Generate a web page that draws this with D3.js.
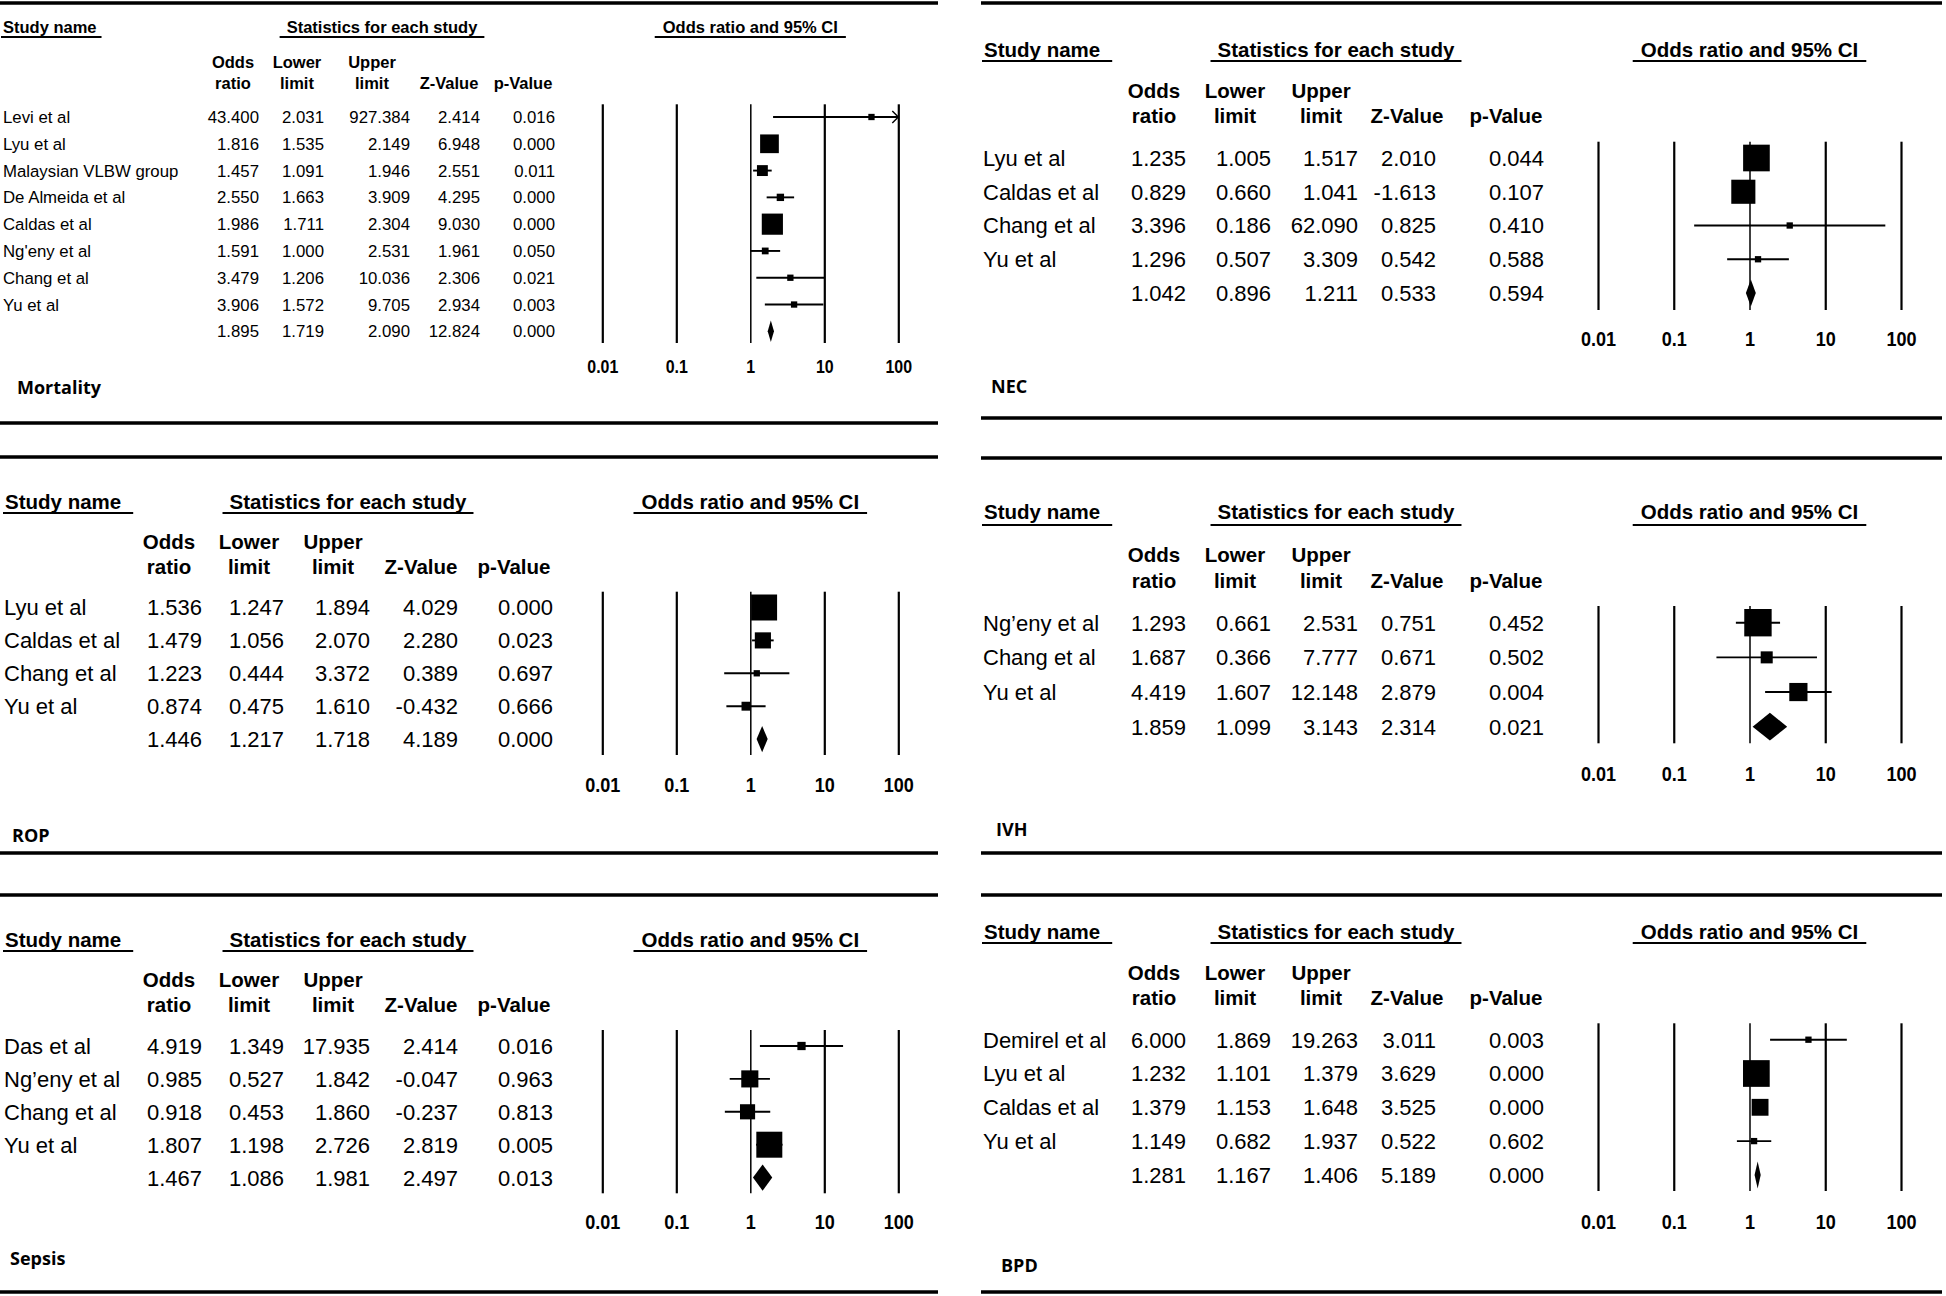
<!DOCTYPE html>
<html>
<head>
<meta charset="utf-8">
<script src="https://cdn.jsdelivr.net/npm/d3@7"></script>
<style>
  body { margin: 0; background: #fff; }
  svg text { font-family: "Liberation Sans", Arial, sans-serif; fill: #000; }
</style>
</head>
<body>
<svg id="chart" width="1946" height="1296"></svg>
<script>
// shared axis / header text
const tickValues = [0.01, 0.1, 1, 10, 100]
const tickLabels = ["0.01", "0.1", "1", "10", "100"]
const columnHeads = [["Odds", "ratio"], ["Lower", "limit"], ["Upper", "limit"], ["", "Z-Value"], ["", "p-Value"]]

// Mortality
const mortalityStudies = ["Levi et al", "Lyu et al", "Malaysian VLBW group", "De Almeida et al", "Caldas et al", "Ng'eny et al", "Chang et al", "Yu et al"]
const mortalityStats = [
  [43.400, 2.031, 927.384, 2.414, 0.016],
  [1.816, 1.535, 2.149, 6.948, 0.000],
  [1.457, 1.091, 1.946, 2.551, 0.011],
  [2.550, 1.663, 3.909, 4.295, 0.000],
  [1.986, 1.711, 2.304, 9.030, 0.000],
  [1.591, 1.000, 2.531, 1.961, 0.050],
  [3.479, 1.206, 10.036, 2.306, 0.021],
  [3.906, 1.572, 9.705, 2.934, 0.003]
]
const mortalityWeights = [0.1, 33.7, 11.4, 5.2, 43.1, 4.4, 0.85, 1.15]
const mortalityPooled = [1.895, 1.719, 2.090, 12.824, 0.000]

// NEC
const necStudies = ["Lyu et al", "Caldas et al", "Chang et al", "Yu et al"]
const necStats = [
  [1.235, 1.005, 1.517, 2.010, 0.044],
  [0.829, 0.660, 1.041, -1.613, 0.107],
  [3.396, 0.186, 62.090, 0.825, 0.410],
  [1.296, 0.507, 3.309, 0.542, 0.588]
]
const necWeights = [53.5, 43.7, 0.3, 2.6]
const necPooled = [1.042, 0.896, 1.211, 0.533, 0.594]

// ROP
const ropStudies = ["Lyu et al", "Caldas et al", "Chang et al", "Yu et al"]
const ropStats = [
  [1.536, 1.247, 1.894, 4.029, 0.000],
  [1.479, 1.056, 2.070, 2.280, 0.023],
  [1.223, 0.444, 3.372, 0.389, 0.697],
  [0.874, 0.475, 1.610, -0.432, 0.666]
]
const ropWeights = [64.7, 24.9, 2.8, 7.6]
const ropPooled = [1.446, 1.217, 1.718, 4.189, 0.000]

// IVH
const ivhStudies = ["Ng’eny et al", "Chang et al", "Yu et al"]
const ivhStats = [
  [1.293, 0.661, 2.531, 0.751, 0.452],
  [1.687, 0.366, 7.777, 0.671, 0.502],
  [4.419, 1.607, 12.148, 2.879, 0.004]
]
const ivhWeights = [61.2, 11.8, 27.0]
const ivhPooled = [1.859, 1.099, 3.143, 2.314, 0.021]

// Sepsis
const sepsisStudies = ["Das et al", "Ng’eny et al", "Chang et al", "Yu et al"]
const sepsisStats = [
  [4.919, 1.349, 17.935, 2.414, 0.016],
  [0.985, 0.527, 1.842, -0.047, 0.963],
  [0.918, 0.453, 1.860, -0.237, 0.813],
  [1.807, 1.198, 2.726, 2.819, 0.005]
]
const sepsisWeights = [5.4, 23.1, 18.1, 53.4]
const sepsisPooled = [1.467, 1.086, 1.981, 2.497, 0.013]

// BPD
const bpdStudies = ["Demirel et al", "Lyu et al", "Caldas et al", "Yu et al"]
const bpdStats = [
  [6.000, 1.869, 19.263, 3.011, 0.003],
  [1.232, 1.101, 1.379, 3.629, 0.000],
  [1.379, 1.153, 1.648, 3.525, 0.000],
  [1.149, 0.682, 1.937, 0.522, 0.602]
]
const bpdWeights = [0.6, 68.8, 27.4, 3.2]
const bpdPooled = [1.281, 1.167, 1.406, 5.189, 0.000]

// layout
const smallLeft = {
  nameX: 3, studyX: 3, studyPad: 5, statsCenter: 382,
  colCenters: [233, 297, 372, 449, 523], colRights: [259, 324, 410, 480, 555],
  xRange: [602.3, 898.3], x0: 0, x1: 938,
  font: 16.8, headFont: 16.5, tickFont: 19, tickSquash: 0.84, labelFont: 18
}
const bigLeft = {
  nameX: 4, studyX: 5, studyPad: 12, statsCenter: 348,
  colCenters: [169, 249, 333, 421, 514], colRights: [202, 284, 370, 458, 553],
  xRange: [602.3, 898.3], x0: 0, x1: 938,
  font: 22, headFont: 20.5, tickFont: 21, tickSquash: 0.86, labelFont: 18
}
const bigRight = {
  nameX: 983, studyX: 984, studyPad: 12, statsCenter: 1336,
  colCenters: [1154, 1235, 1321, 1407, 1506], colRights: [1186, 1271, 1358, 1436, 1544],
  xRange: [1598, 1901], x0: 981, x1: 1942,
  font: 22, headFont: 20.5, tickFont: 21, tickSquash: 0.86, labelFont: 18
}

const panels = [
  {...smallLeft, label: "Mortality", labelX: 17, labelY: 388, ruleTop: 3, ruleBottom: 423,
    headY: 27, underlineY: 37, colHeadY: [62, 83], rowY0: 117, rowStep: 26.79,
    lineTop: 104.3, lineBottom: 343, tickY: 366,
    studies: mortalityStudies, stats: mortalityStats, weights: mortalityWeights, pooled: mortalityPooled},
  {...bigRight, label: "NEC", labelX: 991, labelY: 387, ruleTop: 3, ruleBottom: 418,
    headY: 49.3, underlineY: 61, colHeadY: [91, 116], rowY0: 158, rowStep: 33.75,
    lineTop: 141.7, lineBottom: 310, tickY: 338.3,
    studies: necStudies, stats: necStats, weights: necWeights, pooled: necPooled},
  {...bigLeft, label: "ROP", labelX: 12, labelY: 836, ruleTop: 457, ruleBottom: 853,
    headY: 502, underlineY: 513, colHeadY: [542, 567], rowY0: 607.5, rowStep: 32.9,
    lineTop: 591.7, lineBottom: 755, tickY: 784.3,
    studies: ropStudies, stats: ropStats, weights: ropWeights, pooled: ropPooled},
  {...bigRight, label: "IVH", labelX: 996, labelY: 830, ruleTop: 458, ruleBottom: 853,
    headY: 512, underlineY: 525, colHeadY: [555, 581], rowY0: 622.7, rowStep: 34.67,
    lineTop: 606, lineBottom: 743.3, tickY: 773.7,
    studies: ivhStudies, stats: ivhStats, weights: ivhWeights, pooled: ivhPooled},
  {...bigLeft, label: "Sepsis", labelX: 10, labelY: 1259, ruleTop: 895, ruleBottom: 1292,
    headY: 940, underlineY: 951, colHeadY: [980, 1005], rowY0: 1046, rowStep: 32.9,
    lineTop: 1030, lineBottom: 1193.3, tickY: 1221.7,
    studies: sepsisStudies, stats: sepsisStats, weights: sepsisWeights, pooled: sepsisPooled},
  {...bigRight, label: "BPD", labelX: 1001, labelY: 1266, ruleTop: 895, ruleBottom: 1292,
    headY: 932, underlineY: 943, colHeadY: [973, 998], rowY0: 1039.7, rowStep: 33.8,
    lineTop: 1023.3, lineBottom: 1191, tickY: 1221.7,
    studies: bpdStudies, stats: bpdStats, weights: bpdWeights, pooled: bpdPooled}
]

const fmt = d3.formatLocale({decimal: ".", thousands: ",", grouping: [3], currency: ["", ""], minus: "-"}).format(".3f")
const svg = d3.select("#chart")

// baseline for text whose cap height is centred on cy
const base = (cy, size) => cy + size * 0.36

function drawPanel(p) {
  const g = svg.append("g")
  const x = d3.scaleLog().domain([0.01, 100]).range(p.xRange)
  const y = i => p.rowY0 + i * p.rowStep

  // horizontal rules
  g.selectAll("line.rule")
    .data([p.ruleTop, p.ruleBottom])
    .join("line")
    .attr("class", "rule")
    .attr("x1", p.x0).attr("x2", p.x1)
    .attr("y1", d => d).attr("y2", d => d)
    .attr("stroke", "#000").attr("stroke-width", 3.5)

  // underlined headers
  const heads = [
    {text: "Study name", x: p.studyX, anchor: "start", padL: 2, padR: p.studyPad},
    {text: "Statistics for each study", x: p.statsCenter, anchor: "middle", padL: 7, padR: 7},
    {text: "Odds ratio and 95% CI", x: x(1), anchor: "middle", padL: 8, padR: 8}
  ]
  heads.forEach(h => {
    const t = g.append("text")
      .attr("x", h.x).attr("y", base(p.headY, p.headFont))
      .attr("text-anchor", h.anchor)
      .attr("font-weight", "bold").attr("font-size", p.headFont)
      .text(h.text)
    const w = t.node().getComputedTextLength()
    const left = h.anchor === "start" ? h.x : h.x - w / 2
    g.append("line")
      .attr("x1", left - h.padL).attr("x2", left + w + h.padR)
      .attr("y1", p.underlineY).attr("y2", p.underlineY)
      .attr("stroke", "#000").attr("stroke-width", 2)
  })

  // column headers
  columnHeads.forEach((pair, j) => {
    pair.forEach((txt, k) => {
      if (!txt) return
      g.append("text")
        .attr("x", p.colCenters[j]).attr("y", base(p.colHeadY[k], p.headFont))
        .attr("text-anchor", "middle")
        .attr("font-weight", "bold").attr("font-size", p.headFont)
        .text(txt)
    })
  })

  // reference lines + tick labels through an axis
  const span = p.lineBottom - p.lineTop
  const axis = d3.axisBottom(x)
    .tickValues(tickValues)
    .tickFormat((d, i) => tickLabels[i])
    .tickSize(-span)
    .tickPadding(p.tickY - p.lineBottom - 0.35 * p.tickFont)
  g.append("g")
    .attr("transform", `translate(0, ${p.lineBottom})`)
    .call(axis)
    .attr("font-family", null).attr("font-size", null)
    .call(a => a.select(".domain").remove())
    .call(a => a.selectAll(".tick line")
      .attr("stroke", "#000")
      .attr("stroke-width", d => d === 1 ? 1.5 : 2.2))
    .call(a => a.selectAll(".tick text")
      .attr("fill", "#000")
      .attr("font-weight", "bold")
      .attr("font-size", p.tickFont)
      .attr("transform", `scale(${p.tickSquash}, 1)`))

  // study rows
  const rows = p.stats.map((s, i) => ({
    name: p.studies[i], or: s[0], lo: s[1], hi: s[2], vals: s, w: p.weights[i], y: y(i)
  }))
  const maxSide = 0.79 * p.rowStep
  const side = d3.scaleSqrt().domain([0, d3.max(p.weights)]).range([0, maxSide])
  const xMax = d3.max(tickValues)

  rows.forEach(r => {
    const hiC = Math.min(r.hi, xMax)
    g.append("line")
      .attr("x1", x(r.lo)).attr("x2", x(hiC))
      .attr("y1", r.y).attr("y2", r.y)
      .attr("stroke", "#000").attr("stroke-width", 1.9)
    if (r.hi > xMax) {
      const ax = x(xMax)
      g.append("path")
        .attr("d", `M${ax - 6},${r.y - 6}L${ax},${r.y}L${ax - 6},${r.y + 6}`)
        .attr("fill", "none").attr("stroke", "#000").attr("stroke-width", 1.4)
    }
    const s = Math.max(6.3, side(r.w))
    g.append("rect")
      .attr("x", x(r.or) - s / 2).attr("y", r.y - s / 2)
      .attr("width", s).attr("height", s)
      .attr("fill", "#000")

    g.append("text")
      .attr("x", p.nameX).attr("y", base(r.y, p.font))
      .attr("font-size", p.font)
      .text(r.name)
  })

  // numbers, including pooled row
  const numRows = rows.map(r => ({y: r.y, vals: r.vals}))
  const pooledY = y(rows.length)
  numRows.push({y: pooledY, vals: p.pooled})
  numRows.forEach(r => {
    g.selectAll(null)
      .data(r.vals)
      .join("text")
      .attr("x", (d, j) => p.colRights[j])
      .attr("y", base(r.y, p.font))
      .attr("text-anchor", "end")
      .attr("font-size", p.font)
      .text(d => fmt(d))
  })

  // pooled diamond
  const [por, plo, phi] = p.pooled
  const h = 0.8 * p.rowStep / 2
  g.append("path")
    .attr("d", `M${x(plo)},${pooledY}L${x(por)},${pooledY - h}L${x(phi)},${pooledY}L${x(por)},${pooledY + h}Z`)
    .attr("fill", "#000")

  // outcome label
  g.append("text")
    .attr("x", p.labelX).attr("y", base(p.labelY, p.labelFont))
    .attr("font-size", p.labelFont).attr("font-weight", "bold")
    .style("font-family", "'Open Sans', 'Noto Sans', sans-serif")
    .text(p.label)
}

panels.forEach(drawPanel)
</script>
</body>
</html>
